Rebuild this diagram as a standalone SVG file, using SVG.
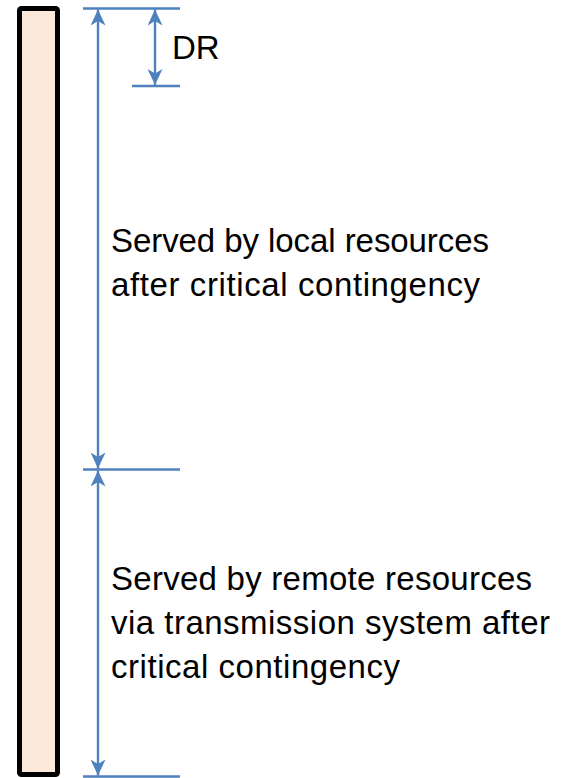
<svg xmlns="http://www.w3.org/2000/svg" width="564" height="778" viewBox="0 0 564 778">
  <style>
    .dim { stroke: #4F81BD; stroke-width: 2.4; fill: none; }
    .lbl { font-family: "Liberation Sans", Arial, sans-serif; font-size: 33px; fill: #000; }
  </style>
  <defs>
    <marker id="head" markerUnits="userSpaceOnUse" viewBox="0 0 16 15" markerWidth="16" markerHeight="15" refX="16" refY="7.5" orient="auto-start-reverse">
      <path d="M16,7.5 L0,0 L4.5,7.5 L0,15 Z" fill="#4F81BD"/>
    </marker>
  </defs>
  <rect width="564" height="778" fill="#fff"/>

  <!-- load bar -->
  <g id="bar">
    <rect x="19.5" y="8.5" width="38" height="766" rx="2" fill="#FDE9D9" stroke="#000" stroke-width="5"/>
  </g>

  <!-- dimension lines -->
  <g id="connectors">
    <line class="dim" x1="83" y1="8.5" x2="180" y2="8.5"/>
    <line class="dim" x1="132" y1="86" x2="180" y2="86"/>
    <line class="dim" x1="83" y1="469.5" x2="180" y2="469.5"/>
    <line class="dim" x1="83" y1="776.5" x2="180" y2="776.5"/>
    <line class="dim" x1="98" y1="9.5" x2="98" y2="468.5" marker-start="url(#head)" marker-end="url(#head)"/>
    <line class="dim" x1="98" y1="470.5" x2="98" y2="775.5" marker-start="url(#head)" marker-end="url(#head)"/>
    <line class="dim" x1="155" y1="9.5" x2="155" y2="85" marker-start="url(#head)" marker-end="url(#head)"/>
  </g>

  <g id="label-dr">
    <text class="lbl" x="172" y="59">DR</text>
  </g>
  <g id="label-local">
    <text class="lbl" x="111" y="252" textLength="378">Served by local resources</text>
    <text class="lbl" x="111" y="296" textLength="369">after critical contingency</text>
  </g>
  <g id="label-remote">
    <text class="lbl" x="111" y="590" textLength="421">Served by remote resources</text>
    <text class="lbl" x="111" y="634" textLength="439">via transmission system after</text>
    <text class="lbl" x="111" y="678" textLength="289">critical contingency</text>
  </g>
</svg>
